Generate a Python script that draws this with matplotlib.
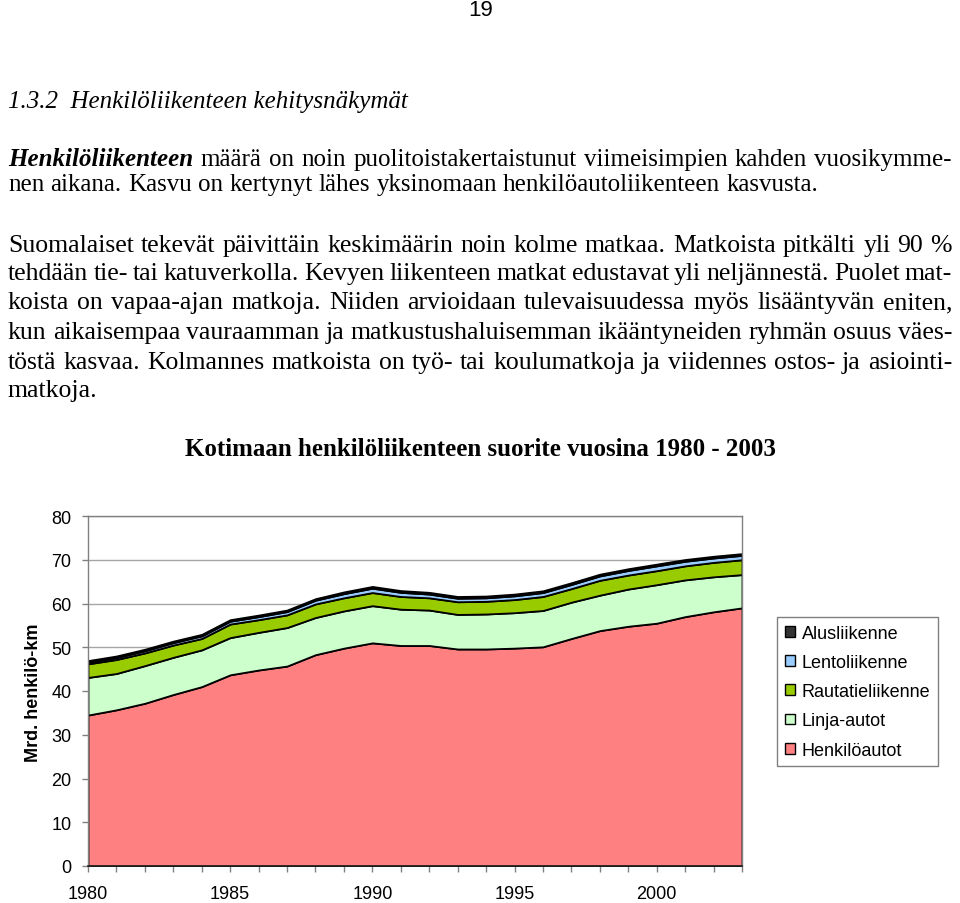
import matplotlib
matplotlib.use('Agg')
import matplotlib.pyplot as plt
from matplotlib.patches import Patch

# ---------------- data ----------------
years = list(range(1980, 2004))
henkiloautot = [34.5, 35.7, 37.2, 39.2, 41.0, 43.7, 44.8, 45.7, 48.3, 49.8, 51.0, 50.4,
                50.4, 49.6, 49.6, 49.8, 50.1, 52.0, 53.8, 54.8, 55.5, 57.0, 58.1, 59.0]
linja_autot = [8.6, 8.3, 8.6, 8.5, 8.4, 8.5, 8.6, 8.8, 8.5, 8.5, 8.5, 8.3,
               8.1, 7.9, 8.0, 8.1, 8.3, 8.3, 8.1, 8.5, 8.8, 8.4, 8.0, 7.6]
rautatie = [3.1, 3.2, 2.9, 2.8, 2.6, 3.1, 2.9, 2.9, 3.1, 3.0, 3.0, 2.9,
            2.8, 2.9, 2.9, 3.0, 3.2, 3.1, 3.4, 3.2, 3.2, 3.2, 3.3, 3.4]
lento = [0.4, 0.45, 0.5, 0.55, 0.6, 0.65, 0.7, 0.75, 0.85, 0.95, 1.0, 0.95,
         0.85, 0.8, 0.8, 0.85, 0.9, 0.95, 1.0, 1.05, 1.1, 1.05, 1.0, 1.0]
alus = [0.35, 0.35, 0.35, 0.35, 0.35, 0.35, 0.35, 0.35, 0.35, 0.4, 0.4, 0.4,
        0.4, 0.4, 0.4, 0.4, 0.4, 0.4, 0.4, 0.4, 0.4, 0.4, 0.4, 0.4]
series_labels = ['Henkilöautot', 'Linja-autot', 'Rautatieliikenne', 'Lentoliikenne', 'Alusliikenne']
series_colors = ['#FF8080', '#CCFFCC', '#99CC00', '#99CCFF', '#333333']
major_years = [1980, 1985, 1990, 1995, 2000]
y_ticks = [0, 10, 20, 30, 40, 50, 60, 70, 80]

page_number = '19'
heading = '1.3.2  Henkilöliikenteen kehitysnäkymät'
para1 = [
    [('Henkilöliikenteen', 'bi')] + [(w, 'r') for w in 'määrä on noin puolitoistakertaistunut viimeisimpien kahden vuosikymme-'.split()],
    [(w, 'r') for w in 'nen aikana. Kasvu on kertynyt lähes yksinomaan henkilöautoliikenteen kasvusta.'.split()],
]
para2_lines = [
    'Suomalaiset tekevät päivittäin keskimäärin noin kolme matkaa. Matkoista pitkälti yli 90 %',
    'tehdään tie- tai katuverkolla. Kevyen liikenteen matkat edustavat yli neljännestä. Puolet mat-',
    'koista on vapaa-ajan matkoja. Niiden arvioidaan tulevaisuudessa myös lisääntyvän eniten,',
    'kun aikaisempaa vauraamman ja matkustushaluisemman ikääntyneiden ryhmän osuus väes-',
    'töstä kasvaa. Kolmannes matkoista on työ- tai koulumatkoja ja viidennes ostos- ja asiointi-',
    'matkoja.',
]
chart_title = 'Kotimaan henkilöliikenteen suorite vuosina 1980 - 2003'
y_label = 'Mrd. henkilö-km'

# ---------------- figure ----------------
plt.rcParams['font.family'] = ['Liberation Sans', 'DejaVu Sans']
W, H = 960, 904
fig = plt.figure(figsize=(9.6, 9.04), dpi=100)
renderer = fig.canvas.get_renderer()
SERIF = 'Liberation Serif'

def fx(x):
    return x / W

def fy(y):
    return 1 - y / H

STYLES = {'r': dict(style='normal', weight='normal'),
          'b': dict(style='normal', weight='bold'),
          'i': dict(style='italic', weight='normal'),
          'bi': dict(style='italic', weight='bold')}

def measure(text, size, st='r', family=SERIF):
    t = fig.text(0, 0, text, fontsize=size, family=family, **STYLES[st])
    w = t.get_window_extent(renderer).width
    t.remove()
    return w

def fit_size(text, width, st='r', family=SERIF):
    return 10 * width / measure(text, 10, st, family)

def draw_line(words, size, y, x0=8, x1=952, justify=True, family=SERIF):
    widths = [measure(w, size, st, family) for w, st in words]
    if justify and len(words) > 1:
        gap = (x1 - x0 - sum(widths)) / (len(words) - 1)
    else:
        gap = 0.25 * size * 100 / 72
    x = x0
    for (w, st), wd in zip(words, widths):
        fig.text(fx(x), fy(y), w, fontsize=size, family=family, va='baseline',
                 ha='left', color='black', **STYLES[st])
        x += wd + gap

# page number
fig.text(fx(481), fy(10), page_number, fontsize=16, ha='center', va='center')

# heading
hs = fit_size(heading, 400, 'i')
fig.text(fx(8), fy(108), heading, fontsize=hs, family=SERIF, style='italic',
         va='baseline', ha='left')

# paragraph 1
p1_text = ' '.join(w for w, _ in para1[1])
p1_size = fit_size(p1_text, 814)
draw_line(para1[0], p1_size, 166, justify=True)
draw_line(para1[1], p1_size, 191, justify=False)

# paragraph 2
p2_size = fit_size('Suomalaiset tekevät päivittäin keskimäärin noin kolme matkaa.', 655)
p2_base = [252, 280, 309, 339, 369, 397]
for i, (line, yb) in enumerate(zip(para2_lines, p2_base)):
    draw_line([(w, 'r') for w in line.split()], p2_size, yb,
              justify=(i < len(para2_lines) - 1))

# chart title
ts = fit_size(chart_title, 594, 'b')
fig.text(fx(480), fy(456), chart_title, fontsize=ts, family=SERIF, weight='bold',
         ha='center', va='baseline')

# ---------------- chart ----------------
ax = fig.add_axes([fx(88), fy(867), (742 - 88) / W, (867 - 517) / H])
polys = ax.stackplot(years, henkiloautot, linja_autot, rautatie, lento, alus,
                     colors=series_colors, edgecolor='black', linewidth=1.3)
ax.set_xlim(1980, 2003)
ax.set_ylim(0, 80)
ax.set_yticks(y_ticks)
ax.set_xticks(major_years)
ax.set_xticks(years, minor=True)
ax.yaxis.grid(True, color='#a6a6a6', linewidth=1)
ax.set_axisbelow(True)
ax.tick_params(axis='both', which='both', direction='out', length=4,
               color='#808080', width=1, labelsize=13)
ax.tick_params(axis='x', which='both', pad=9.5)
ax.tick_params(axis='y', pad=8)
for side in ['left', 'right', 'top']:
    ax.spines[side].set_color('#808080')
    ax.spines[side].set_linewidth(1)
ax.spines['bottom'].set_color('#222222')
ax.spines['bottom'].set_linewidth(1.2)

fig.text(fx(33), fy(693), y_label, rotation=90, fontsize=13, weight='bold',
         ha='center', va='center')

handles = [Patch(facecolor=c, edgecolor='black', linewidth=1) for c in series_colors]
leg = ax.legend(handles[::-1], series_labels[::-1], loc='upper left',
                bbox_to_anchor=(fx(777), fy(618)), bbox_transform=fig.transFigure,
                borderaxespad=0, fontsize=13, frameon=True, fancybox=False,
                edgecolor='#808080', framealpha=1, handlelength=0.55,
                handleheight=0.55, handletextpad=0.4, labelspacing=0.68,
                borderpad=0.42)
leg.get_frame().set_linewidth(1)

fig.savefig('out.png', dpi=100)
